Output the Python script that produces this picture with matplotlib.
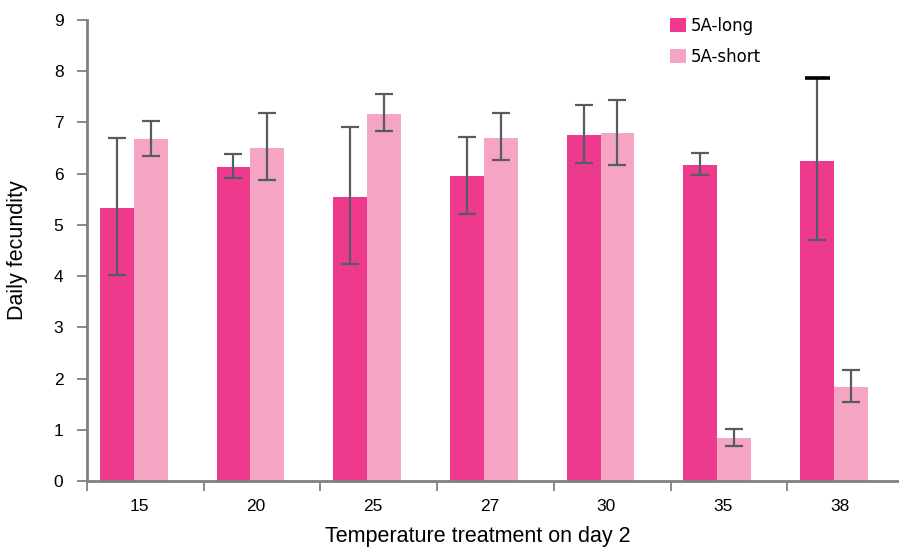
import matplotlib
matplotlib.use('Agg')
from matplotlib import pyplot as plt
import numpy as np

# Daily fecundity by temperature treatment on day 2
temps = ['15', '20', '25', '27', '30', '35', '38']

long_mean = [5.33, 6.13, 5.55, 5.96, 6.76, 6.17, 6.25]
long_lo = [4.02, 5.91, 4.24, 5.22, 6.21, 5.97, 4.70]
long_hi = [6.70, 6.38, 6.91, 6.72, 7.34, 6.40, 7.86]

short_mean = [6.68, 6.51, 7.17, 6.70, 6.79, 0.84, 1.84]
short_lo = [6.35, 5.87, 6.83, 6.27, 6.17, 0.68, 1.54]
short_hi = [7.02, 7.18, 7.55, 7.18, 7.44, 1.02, 2.17]

long_col = '#ee3a8c'
short_col = '#f5a5c3'
err_col = '#565c64'
axis_col = '#808080'

long_mean = np.array(long_mean)
short_mean = np.array(short_mean)
long_err = [long_mean - np.array(long_lo), np.array(long_hi) - long_mean]
short_err = [short_mean - np.array(short_lo), np.array(short_hi) - short_mean]

fig = plt.figure(figsize=(8.99, 5.5), dpi=100)
ax = fig.add_axes([0.0968, 0.1255, 0.9087, 0.8381])

x = np.arange(len(temps))
w = 0.29
x_long = x + 0.11 + w / 2
x_short = x_long + w
err_kw = dict(ecolor=err_col, elinewidth=1.6, capsize=6.5, capthick=1.6)
ax.bar(x_long, long_mean, w, color=long_col, label='5A-long',
       yerr=long_err, error_kw=err_kw, zorder=2)
ax.bar(x_short, short_mean, w, color=short_col, label='5A-short',
       yerr=short_err, error_kw=err_kw, zorder=2)
# heavier black cap on the last 5A-long bar
ax.plot(x_long[-1], long_hi[-1], marker='_', markersize=18, mew=2.6, color='black', zorder=4)

ax.set_xlim(0, len(temps))
ax.set_ylim(0, 9)
ax.set_yticks(range(10))

# boundaries get the tick marks, centres get the labels
ax.set_xticks(np.arange(len(temps) + 1))
ax.set_xticklabels([])
ax.set_xticks(x + 0.45, minor=True)
ax.set_xticklabels(temps, minor=True)
ax.tick_params(axis='x', which='minor', length=0, pad=13, labelsize=12.5)
ax.tick_params(axis='x', which='major', direction='out', length=7, width=1.3, color=axis_col)
ax.tick_params(axis='y', direction='out', length=7, width=1.3, color=axis_col, pad=10, labelsize=12.5)

for s in ['top', 'right']:
    ax.spines[s].set_visible(False)
for s in ['left', 'bottom']:
    ax.spines[s].set_color(axis_col)
    ax.spines[s].set_linewidth(2)

for lab in ax.get_xticklabels(minor=True) + ax.get_yticklabels():
    lab.set_family('Liberation Sans')

ax.set_ylabel('Daily fecundity', fontsize=15.5, family='Liberation Sans')
ax.yaxis.set_label_coords(-0.072, 0.5)
ax.set_xlabel('Temperature treatment on day 2', fontsize=15.5, family='Liberation Sans')
ax.xaxis.set_label_coords(0.478, -0.097)

leg = ax.legend(loc='upper left', bbox_to_anchor=(655 / 899, 1 - 2 / 550),
                bbox_transform=fig.transFigure, frameon=False, fontsize=12,
                handlelength=0.96, handleheight=0.9, handletextpad=0.3,
                labelspacing=0.75)

fig.savefig('out.png', dpi=100)
